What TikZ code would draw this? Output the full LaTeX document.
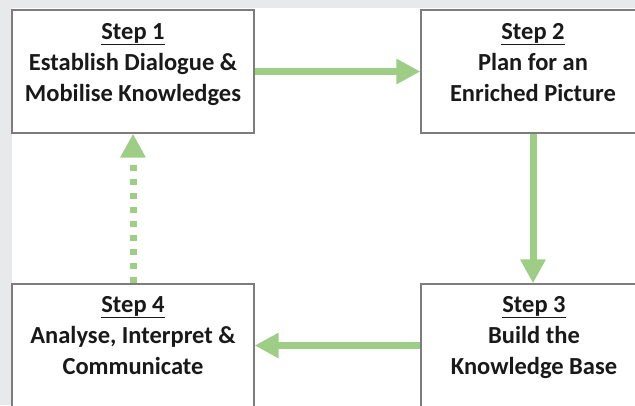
\documentclass[tikz,border=0pt]{standalone}
\usepackage{fontspec}
\setmainfont{Carlito}
\usetikzlibrary{arrows.meta}
\definecolor{bgray}{RGB}{232,233,235}
\definecolor{agreen}{RGB}{158,206,134}
\definecolor{bord}{RGB}{125,125,125}
\tikzset{
  stepbox/.style={draw=bord, line width=1.3pt, fill=white, minimum width=242pt, minimum height=123pt, inner sep=0pt},
  steptext/.style={align=center, anchor=north, font=\bfseries\fontsize{24.5}{31}\selectfont, inner sep=0pt, text=black!90},
  arr/.style={draw=agreen, line width=7pt, -{Triangle[length=24pt,width=24pt]}},
  darr/.style={arr, dash pattern=on 6pt off 8pt}
}
\newcommand{\stp}[1]{\underline{Step #1}}
\begin{document}
\begin{tikzpicture}[x=1pt,y=-1pt]
\useasboundingbox (0,0) rectangle (635,405);
\clip (0,0) rectangle (635,405);
\fill[bgray] (0,0) rectangle (635,405);
\fill[white] (12,8) rectangle (640,410);
\node[stepbox] (b1) at (133,71.5) {};
\node[stepbox, minimum width=224pt] (b2) at (533,71.5) {};
\node[stepbox, minimum width=224pt] (b3) at (533,345.5) {};
\node[stepbox] (b4) at (133,345.5) {};
\node[steptext] (t1) at (133,23) {\stp{1}\\Establish Dialogue \&\\Mobilise Knowledges};
\node[steptext] (t2) at (533,23) {\stp{2}\\Plan for an\\Enriched Picture};
\node[steptext] (t3) at (534,296) {\stp{3}\\Build the\\Knowledge Base};
\node[steptext] (t4) at (133,296) {\stp{4}\\Analyse, Interpret \&\\Communicate};
\draw[arr] (b1.east) -- (b2.west);
\draw[arr] (b2.south) -- (b3.north);
\draw[arr] (b3.west) -- (b4.east);
\draw[darr] (b4.north) -- (b1.south);
\end{tikzpicture}
\end{document}
